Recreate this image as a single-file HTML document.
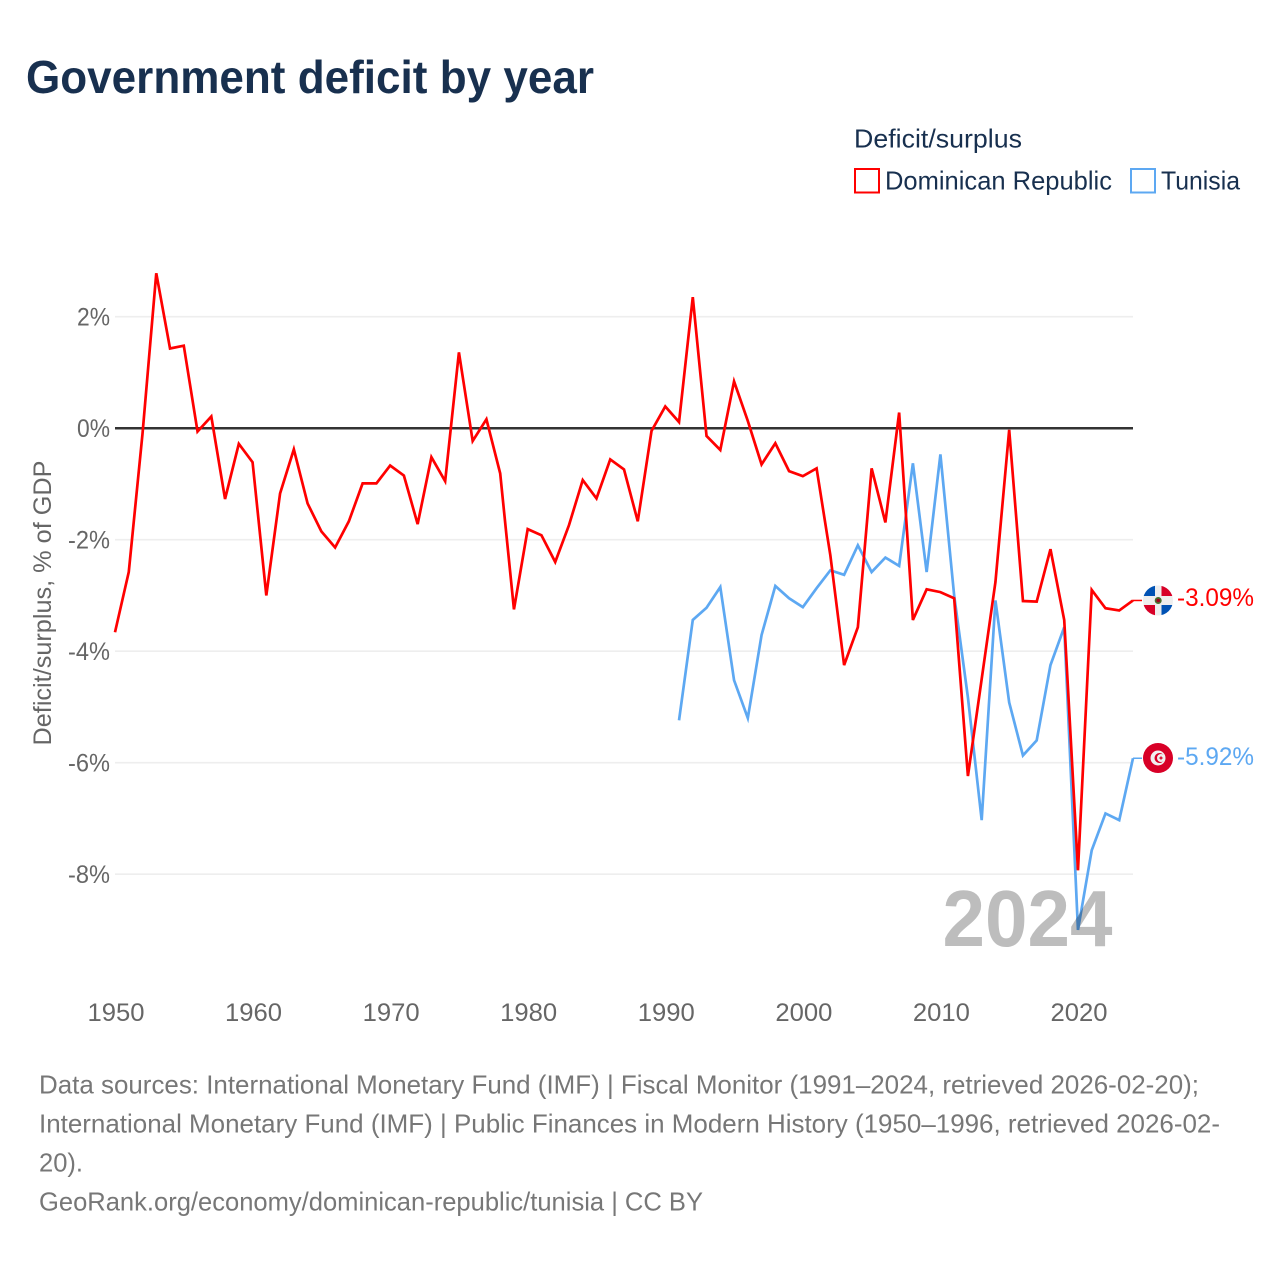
<!DOCTYPE html>
<html lang="en">
<head>
<meta charset="utf-8">
<title>Government deficit by year</title>
<style>
html,body{margin:0;padding:0;background:#fff;width:1280px;height:1280px;overflow:hidden}
svg{display:block;font-family:"Liberation Sans",sans-serif}
</style>
</head>
<body>
<svg id="chart" xmlns="http://www.w3.org/2000/svg" width="1280" height="1280" viewBox="0 0 1280 1280">
  <text x="26" y="93" font-size="46" font-weight="700" fill="#18304f" textLength="568" lengthAdjust="spacingAndGlyphs">Government deficit by year</text>

  <g>
    <text x="854" y="147.5" font-size="26" fill="#18304f" textLength="168" lengthAdjust="spacingAndGlyphs">Deficit/surplus</text>
    <rect x="855" y="169" width="24" height="23.5" fill="none" stroke="#ff0000" stroke-width="2"/>
    <text x="885" y="189.5" font-size="26" fill="#18304f" textLength="227" lengthAdjust="spacingAndGlyphs">Dominican Republic</text>
    <rect x="1131" y="169" width="24" height="23.5" fill="none" stroke="#5da8f2" stroke-width="2"/>
    <text x="1161" y="189.5" font-size="26" fill="#18304f" textLength="79" lengthAdjust="spacingAndGlyphs">Tunisia</text>
  </g>

  <text transform="translate(51,603) rotate(-90)" text-anchor="middle" font-size="25" fill="#666" textLength="285" lengthAdjust="spacingAndGlyphs">Deficit/surplus, % of GDP</text>

  <g id="grid"></g>
  <g id="y-ticks"></g>
  <g id="x-ticks"></g>
  <g id="series"></g>

  <text x="1027.5" y="946" text-anchor="middle" font-size="80" font-weight="700" fill="#000" fill-opacity="0.26" textLength="170" lengthAdjust="spacingAndGlyphs">2024</text>

  <g>
    <clipPath id="clip-dr"><circle cx="1158" cy="600.5" r="15"/></clipPath>
    <g clip-path="url(#clip-dr)">
      <rect x="1143" y="585" width="30" height="31" fill="#eeeeee"/>
      <rect x="1143" y="585" width="12" height="11" fill="#0052b4"/>
      <rect x="1161.5" y="585" width="12" height="11" fill="#d80027"/>
      <rect x="1143" y="605" width="12" height="11" fill="#d80027"/>
      <rect x="1161.5" y="605" width="12" height="11" fill="#0052b4"/>
      <circle cx="1158.2" cy="600.5" r="3.5" fill="#496e2d"/>
      <circle cx="1158.2" cy="600.5" r="1.8" fill="#a2001d"/>
    </g>
  </g>
  <g>
    <circle cx="1158" cy="758" r="15" fill="#d80027"/>
    <circle cx="1158" cy="758" r="7.5" fill="#f0f0f0"/>
    <circle cx="1159.5" cy="758" r="5" fill="#d80027"/>
    <circle cx="1161" cy="758" r="4" fill="#f0f0f0"/>
    <path d="M1161 755.6l.7 1.7 1.7.7-1.7.7-.7 1.7-.7-1.7-1.7-.7 1.7-.7z" fill="#d80027"/>
  </g>

  <g id="end-labels"></g>

  <g font-size="26" fill="#777">
    <text x="39" y="1093.5" textLength="1160" lengthAdjust="spacingAndGlyphs">Data sources: International Monetary Fund (IMF) | Fiscal Monitor (1991–2024, retrieved 2026-02-20);</text>
    <text x="39" y="1132.5" textLength="1181" lengthAdjust="spacingAndGlyphs">International Monetary Fund (IMF) | Public Finances in Modern History (1950–1996, retrieved 2026-02-</text>
    <text x="39" y="1171.5" textLength="44" lengthAdjust="spacingAndGlyphs">20).</text>
    <text x="39" y="1210.5" textLength="664" lengthAdjust="spacingAndGlyphs">GeoRank.org/economy/dominican-republic/tunisia | CC BY</text>
  </g>
</svg>

<script>
var xTickYears = [1950, 1960, 1970, 1980, 1990, 2000, 2010, 2020];
var yTickValues = [2, 0, -2, -4, -6, -8];
var domYears = [1950,1951,1952,1953,1954,1955,1956,1957,1958,1959,1960,1961,1962,1963,1964,1965,1966,1967,1968,1969,1970,1971,1972,1973,1974,1975,1976,1977,1978,1979,1980,1981,1982,1983,1984,1985,1986,1987,1988,1989,1990,1991,1992,1993,1994,1995,1996,1997,1998,1999,2000,2001,2002,2003,2004,2005,2006,2007,2008,2009,2010,2011,2012,2013,2014,2015,2016,2017,2018,2019,2020,2021,2022,2023,2024];
var domValues = [-3.66,-2.58,-0.1,2.78,1.43,1.48,-0.06,0.21,-1.27,-0.28,-0.61,-3.0,-1.17,-0.38,-1.35,-1.85,-2.14,-1.67,-0.99,-0.99,-0.67,-0.85,-1.72,-0.52,-0.95,1.36,-0.23,0.16,-0.81,-3.25,-1.81,-1.92,-2.4,-1.74,-0.93,-1.26,-0.56,-0.74,-1.67,-0.05,0.39,0.11,2.35,-0.14,-0.39,0.84,0.13,-0.65,-0.27,-0.77,-0.86,-0.72,-2.28,-4.25,-3.57,-0.72,-1.69,0.28,-3.44,-2.89,-2.94,-3.05,-6.24,-4.5,-2.76,-0.03,-3.1,-3.11,-2.17,-3.44,-7.93,-2.9,-3.23,-3.27,-3.09];
var tunYears = [1991,1992,1993,1994,1995,1996,1997,1998,1999,2000,2001,2002,2003,2004,2005,2006,2007,2008,2009,2010,2011,2012,2013,2014,2015,2016,2017,2018,2019,2020,2021,2022,2023,2024];
var tunValues = [-5.24,-3.44,-3.22,-2.85,-4.52,-5.2,-3.71,-2.83,-3.05,-3.21,-2.87,-2.55,-2.63,-2.1,-2.58,-2.32,-2.47,-0.63,-2.58,-0.47,-3.0,-4.83,-7.03,-3.09,-4.92,-5.87,-5.6,-4.25,-3.57,-9.0,-7.57,-6.91,-7.03,-5.92];

var SVG_NS = 'http://www.w3.org/2000/svg';
var DOM_COLOR = '#ff0000';
var TUN_COLOR = '#5da8f2';
var PLOT_LEFT = 115;
var PLOT_RIGHT = 1133;

function xScale(year) {
  return PLOT_LEFT + (year - 1950) * (PLOT_RIGHT - PLOT_LEFT) / (2024 - 1950);
}
function yScale(value) {
  return 428.2 - value * 55.75;
}
function make(tag, parent) {
  var el = document.createElementNS(SVG_NS, tag);
  parent.appendChild(el);
  return el;
}
function pointsFor(years, values) {
  return years.map(function (y, i) {
    return xScale(y).toFixed(2) + ',' + yScale(values[i]).toFixed(2);
  }).join(' ');
}

var grid = document.getElementById('grid');
var yTicks = document.getElementById('y-ticks');
var xTicks = document.getElementById('x-ticks');
var seriesGroup = document.getElementById('series');
var endLabels = document.getElementById('end-labels');

yTickValues.forEach(function (v) {
  var line = make('line', grid);
  
  
  line.setAttribute('x1', PLOT_LEFT);
  line.setAttribute('x2', PLOT_RIGHT);
  line.setAttribute('y1', yScale(v));
  line.setAttribute('y2', yScale(v));
  line.setAttribute('stroke', v === 0 ? '#333333' : '#eeeeee');
  line.setAttribute('stroke-width', v === 0 ? 2.5 : 1.6);

  var label = make('text', yTicks);
  
  
  label.setAttribute('x', 110);
  label.setAttribute('y', yScale(v) + 8.8);
  label.setAttribute('text-anchor', 'end');
  label.setAttribute('font-size', '25');
  label.setAttribute('fill', '#666666');
  label.setAttribute('textLength', v < 0 ? 42 : 33);
  label.setAttribute('lengthAdjust', 'spacingAndGlyphs');
  label.textContent = v + '%';
});

xTickYears.forEach(function (year) {
  var label = make('text', xTicks);
  
  
  label.setAttribute('x', xScale(year) + 1);
  label.setAttribute('y', 1021);
  label.setAttribute('text-anchor', 'middle');
  label.setAttribute('font-size', '25');
  label.setAttribute('fill', '#666666');
  label.setAttribute('textLength', 57);
  label.setAttribute('lengthAdjust', 'spacingAndGlyphs');
  label.textContent = String(year);
});

function drawSeries(name, years, values, color, labelY) {
  var lastX = xScale(years[years.length - 1]);
  var lastY = yScale(values[values.length - 1]);

  var line = make('polyline', seriesGroup);
  
  
  line.setAttribute('points', pointsFor(years, values));
  line.setAttribute('fill', 'none');
  line.setAttribute('stroke', color);
  line.setAttribute('stroke-width', 2.7);
  line.setAttribute('stroke-linejoin', 'miter');

  var connector = make('line', seriesGroup);
  
  
  connector.setAttribute('x1', lastX);
  connector.setAttribute('x2', lastX + 9);
  connector.setAttribute('y1', lastY);
  connector.setAttribute('y2', lastY);
  connector.setAttribute('stroke', color);
  connector.setAttribute('stroke-width', 1.5);

  var label = make('text', endLabels);
  
  
  label.setAttribute('x', 1177);
  label.setAttribute('y', labelY);
  label.setAttribute('font-size', '25');
  label.setAttribute('fill', color);
  label.setAttribute('textLength', 77);
  label.setAttribute('lengthAdjust', 'spacingAndGlyphs');
  label.textContent = values[values.length - 1].toFixed(2) + '%';
}

drawSeries('tunisia', tunYears, tunValues, TUN_COLOR, 765);
drawSeries('dominican-republic', domYears, domValues, DOM_COLOR, 606);
</script>
</body>
</html>
